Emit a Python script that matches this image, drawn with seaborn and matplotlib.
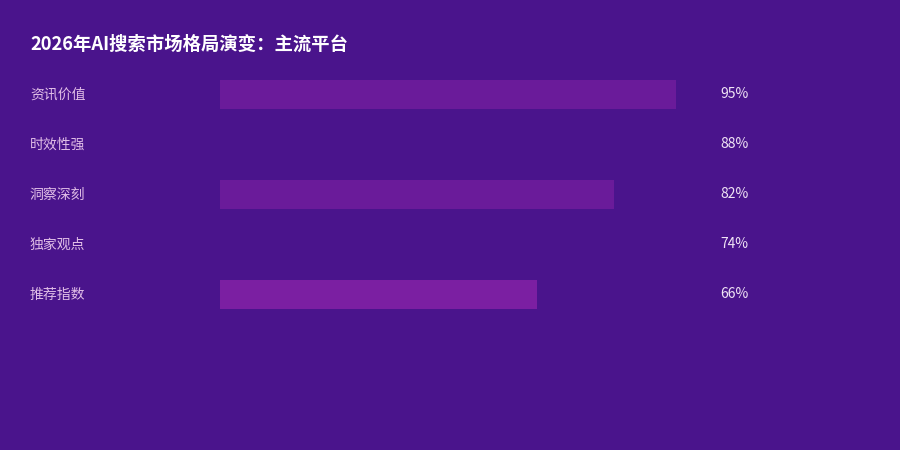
import matplotlib
matplotlib.use("Agg")
import matplotlib.pyplot as plt
import matplotlib.transforms as mtransforms
import pandas as pd
import seaborn as sns

title = "2026年AI搜索市场格局演变：主流平台"
categories = ["资讯价值", "时效性强", "洞察深刻", "独家观点", "推荐指数"]
values = [95, 88, 82, 74, 66]
bar_colors = ["#6a1b9a", "#4a148c", "#6a1b9a", "#4a148c", "#7b1fa2"]

BG = "#4a148c"
LABEL_C = "#e1bee7"
VALUE_C = "#f0e4f5"

sns.set_theme(style="white")
plt.rcParams["font.family"] = ["Noto Sans CJK SC", "DejaVu Sans"]

df = pd.DataFrame({"category": categories, "value": values})

fig = plt.figure(figsize=(9, 4.5), dpi=100, facecolor=BG)
ax = fig.add_axes([220 / 900, 1 - 319.5 / 450, 480 / 900, 250 / 450])
ax.set_facecolor(BG)

sns.barplot(data=df, x="value", y="category", hue="category",
            palette=bar_colors, orient="h", width=0.58,
            legend=False, ax=ax, saturation=1, linewidth=0)

ax.set_xlim(0, 100)
ax.set_ylim(4.5, -0.5)
ax.set_xlabel("")
ax.set_ylabel("")
ax.set_xticks([])
ax.set_yticks([])
for s in ax.spines.values():
    s.set_visible(False)

lab_tr = mtransforms.blended_transform_factory(fig.transFigure, ax.transData)
for i, (cat, v) in enumerate(zip(categories, values)):
    ax.text(30 / 900, i, cat, transform=lab_tr, color=LABEL_C,
            fontsize=10, va="center", ha="left")
    ax.text(720 / 900, i, f"{v}%", transform=lab_tr, color=VALUE_C,
            fontsize=10, va="center", ha="left")

fig.text(30 / 900, 1 - 44 / 450, title, color="white", fontsize=13.2,
         fontweight="bold", va="center", ha="left")

fig.savefig("out.png", dpi=100, facecolor=BG)
